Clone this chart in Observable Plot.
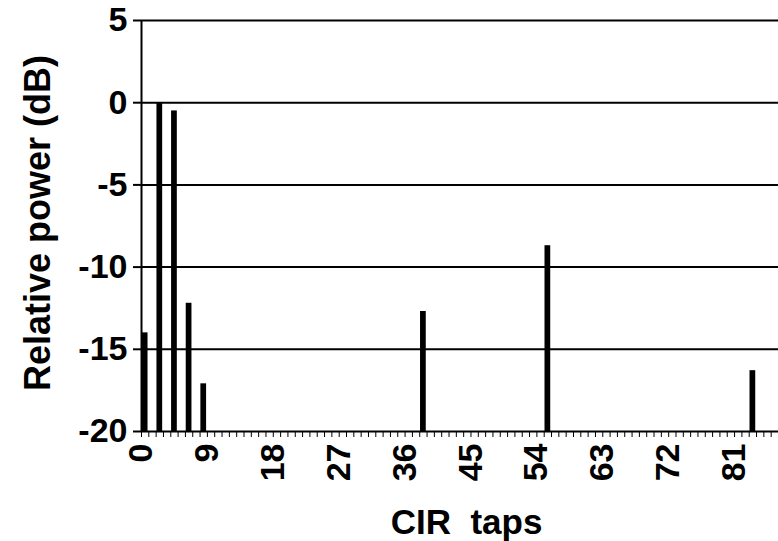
<!DOCTYPE html>
<html>
<head>
<meta charset="utf-8">
<script src="https://cdn.jsdelivr.net/npm/d3@7"></script>
<script src="https://cdn.jsdelivr.net/npm/@observablehq/plot@0.6"></script>
<style>
  html, body { margin: 0; padding: 0; background: white; }
  svg text { white-space: pre; }
</style>
</head>
<body>
<div id="chart"></div>
<script>
// Data
const taps = [0, 2, 4, 6, 8, 38, 55, 83];
const power = [-14.0, 0.0, -0.5, -12.2, -17.1, -12.7, -8.7, -16.3];
const yTicks = [5, 0, -5, -10, -15, -20];
const xTickLabels = [0, 9, 18, 27, 36, 45, 54, 63, 72, 81];
const categories = d3.range(87); // CIR taps 0..86
const yTitle = "Relative power (dB)";
const xTitle = "CIR  taps";

const data = taps.map((t, i) => ({tap: t, power: power[i]}));

const chart = Plot.plot({
  width: 778,
  height: 541,
  marginLeft: 141,
  marginRight: 0,
  marginTop: 20,
  marginBottom: 110,
  x: {type: "linear", domain: [-0.5, 86.5]},
  y: {domain: [-20, 5]},
  style: {
    fontFamily: "'Liberation Sans', Arial, sans-serif",
    fontSize: "34px",
    fontWeight: "bold",
    color: "black",
    background: "white"
  },
  marks: [
    Plot.ruleY(yTicks, {stroke: "black", strokeWidth: 2}),
    Plot.rectY(data, {
      x1: d => d.tap - 0.5,
      x2: d => d.tap + 0.5,
      y1: -20,
      y2: "power",
      insetLeft: 0.8,
      insetRight: 0.8,
      fill: "black"
    }),
    Plot.ruleX([-0.5], {stroke: "black", strokeWidth: 2}),
    Plot.axisY({ticks: yTicks, tickSize: 8, tickPadding: 6, tickFormat: d => String(d), label: null, strokeWidth: 2}),
    Plot.axisX({ticks: categories.map(c => c - 0.5), tickSize: 6, tickFormat: () => "", label: null}),
    Plot.axisX({ticks: xTickLabels, tickSize: 0, tickRotate: -90, tickPadding: 12, dx: -4, tickFormat: d => String(d), label: null}),
    Plot.text([yTitle], {frameAnchor: "left", textAnchor: "middle", lineAnchor: "middle", rotate: -90, dx: -103, dy: -3, fontSize: 36, fontWeight: "bold"}),
    Plot.text([xTitle], {frameAnchor: "bottom", textAnchor: "middle", lineAnchor: "bottom", dx: 6.5, dy: 102, fontSize: 35, fontWeight: "bold"})
  ]
});
document.getElementById("chart").appendChild(chart);
</script>
</body>
</html>
